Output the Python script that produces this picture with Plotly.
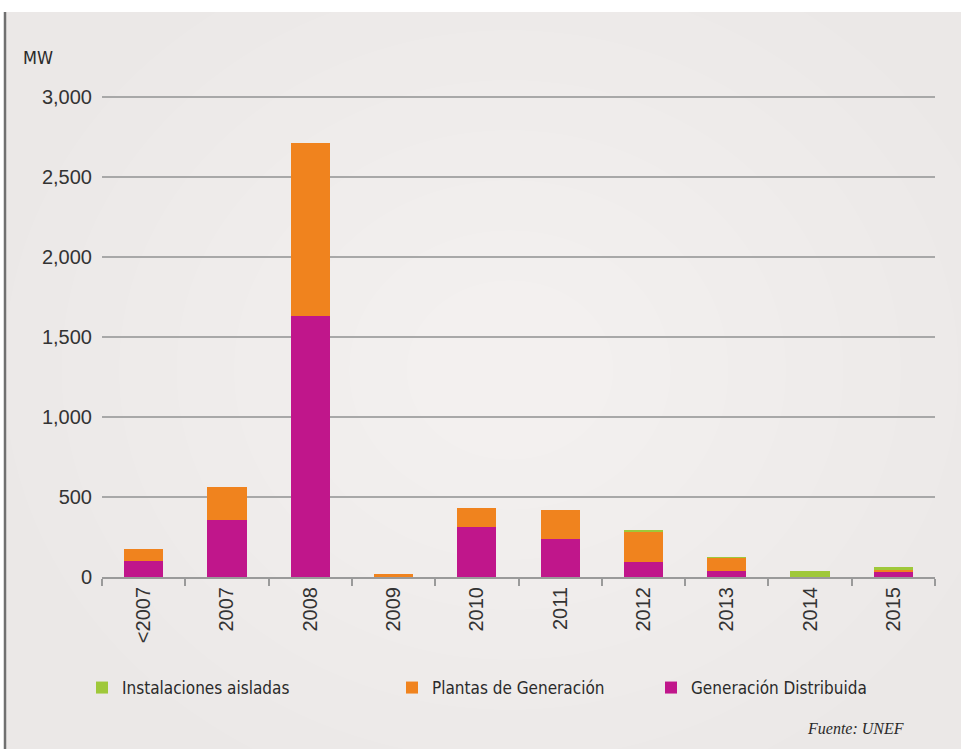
import plotly.graph_objects as go

# Installed photovoltaic capacity in Spain by year and segment (MW)
categories = ["<2007", "2007", "2008", "2009", "2010", "2011", "2012", "2013", "2014", "2015"]
generacion_distribuida = [100, 355, 1630, 3, 310, 235, 92, 40, 0, 35]
plantas_generacion = [72, 205, 1085, 17, 120, 183, 193, 80, 0, 10]
instalaciones_aisladas = [0, 0, 0, 0, 0, 0, 3, 5, 35, 15]
y_ticks = [0, 500, 1000, 1500, 2000, 2500, 3000]

series_names = ["Instalaciones aisladas", "Plantas de Generación", "Generación Distribuida"]
colors = {"green": "#9fc83a", "orange": "#f0831e", "magenta": "#c0168b"}

W, H = 961, 749
L, R, T, B = 102, 26, 80, 172


def px_x(px):
    return (px - L) / (W - L - R)


def px_y(py):
    return (H - B - py) / (H - T - B)


tick_font = dict(family="Liberation Sans, Arial, Helvetica, sans-serif", size=20, color="#333333")
narrow_font = dict(family="Liberation Sans Narrow, Arial Narrow, DejaVu Sans Condensed, sans-serif",
                   size=17, color="#2a2a2a")

fig = go.Figure()
fig.add_trace(go.Bar(x=categories, y=generacion_distribuida, name=series_names[2],
                     marker=dict(color=colors["magenta"], line_width=0), legend="legend3"))
fig.add_trace(go.Bar(x=categories, y=plantas_generacion, name=series_names[1],
                     marker=dict(color=colors["orange"], line_width=0), legend="legend2"))
fig.add_trace(go.Bar(x=categories, y=instalaciones_aisladas, name=series_names[0],
                     marker=dict(color=colors["green"], line_width=0), legend="legend"))

# Card background with a soft radial highlight
shapes = [
    dict(type="rect", xref="paper", yref="paper", layer="below",
         x0=px_x(6), x1=px_x(W), y0=px_y(12), y1=px_y(H),
         fillcolor="#ebe8e7", line_width=0),
]
cx, cy = 510, 370
for r in range(440, 40, -50):
    shapes.append(dict(type="circle", xref="paper", yref="paper", layer="below",
                       x0=px_x(cx - r * 1.15), x1=px_x(cx + r * 1.15),
                       y0=px_y(cy + r), y1=px_y(cy - r),
                       fillcolor="white", opacity=0.08, line_width=0))
shapes.append(dict(type="line", xref="paper", yref="paper", layer="above",
                   x0=px_x(5), x1=px_x(5), y0=px_y(12), y1=px_y(H),
                   line=dict(color="#707070", width=2.5)))

legend_common = dict(orientation="h", xanchor="left", yanchor="middle", y=px_y(688),
                     bgcolor="rgba(0,0,0,0)", font=narrow_font, itemwidth=30)

fig.update_layout(
    width=W, height=H,
    margin=dict(l=L, r=R, t=T, b=B, pad=0),
    paper_bgcolor="white",
    plot_bgcolor="rgba(0,0,0,0)",
    barmode="stack",
    bargap=0.53,
    shapes=shapes,
    showlegend=True,
    legend=dict(x=px_x(82), **legend_common),
    legend2=dict(x=px_x(392), **legend_common),
    legend3=dict(x=px_x(651), **legend_common),
    xaxis=dict(
        type="category",
        showgrid=False,
        showline=True, linecolor="#9a9a9a", linewidth=2,
        ticks="outside", tickson="boundaries", ticklen=7, tickwidth=1.5, tickcolor="#9a9a9a",
        tickangle=-90, tickfont=tick_font,
    ),
    yaxis=dict(
        range=[0, 3106],
        tickvals=y_ticks,
        tickformat=",",
        showgrid=True, gridcolor="#a8a8a8", gridwidth=2,
        zeroline=False, showline=False,
        ticks="outside", ticklen=5, tickcolor="rgba(0,0,0,0)",
        tickfont=tick_font,
    ),
    annotations=[
        dict(text="MW", xref="paper", yref="paper", x=px_x(38), y=px_y(57),
             xanchor="center", yanchor="middle", showarrow=False,
             font=dict(family=narrow_font["family"], size=18, color="#2a2a2a")),
        dict(text="<i>Fuente: UNEF</i>", xref="paper", yref="paper", x=px_x(906), y=px_y(728),
             xanchor="right", yanchor="middle", showarrow=False,
             font=dict(family="Liberation Serif, Times New Roman, serif", size=16, color="#2a2a2a")),
    ],
)

fig.write_html("out.html")
